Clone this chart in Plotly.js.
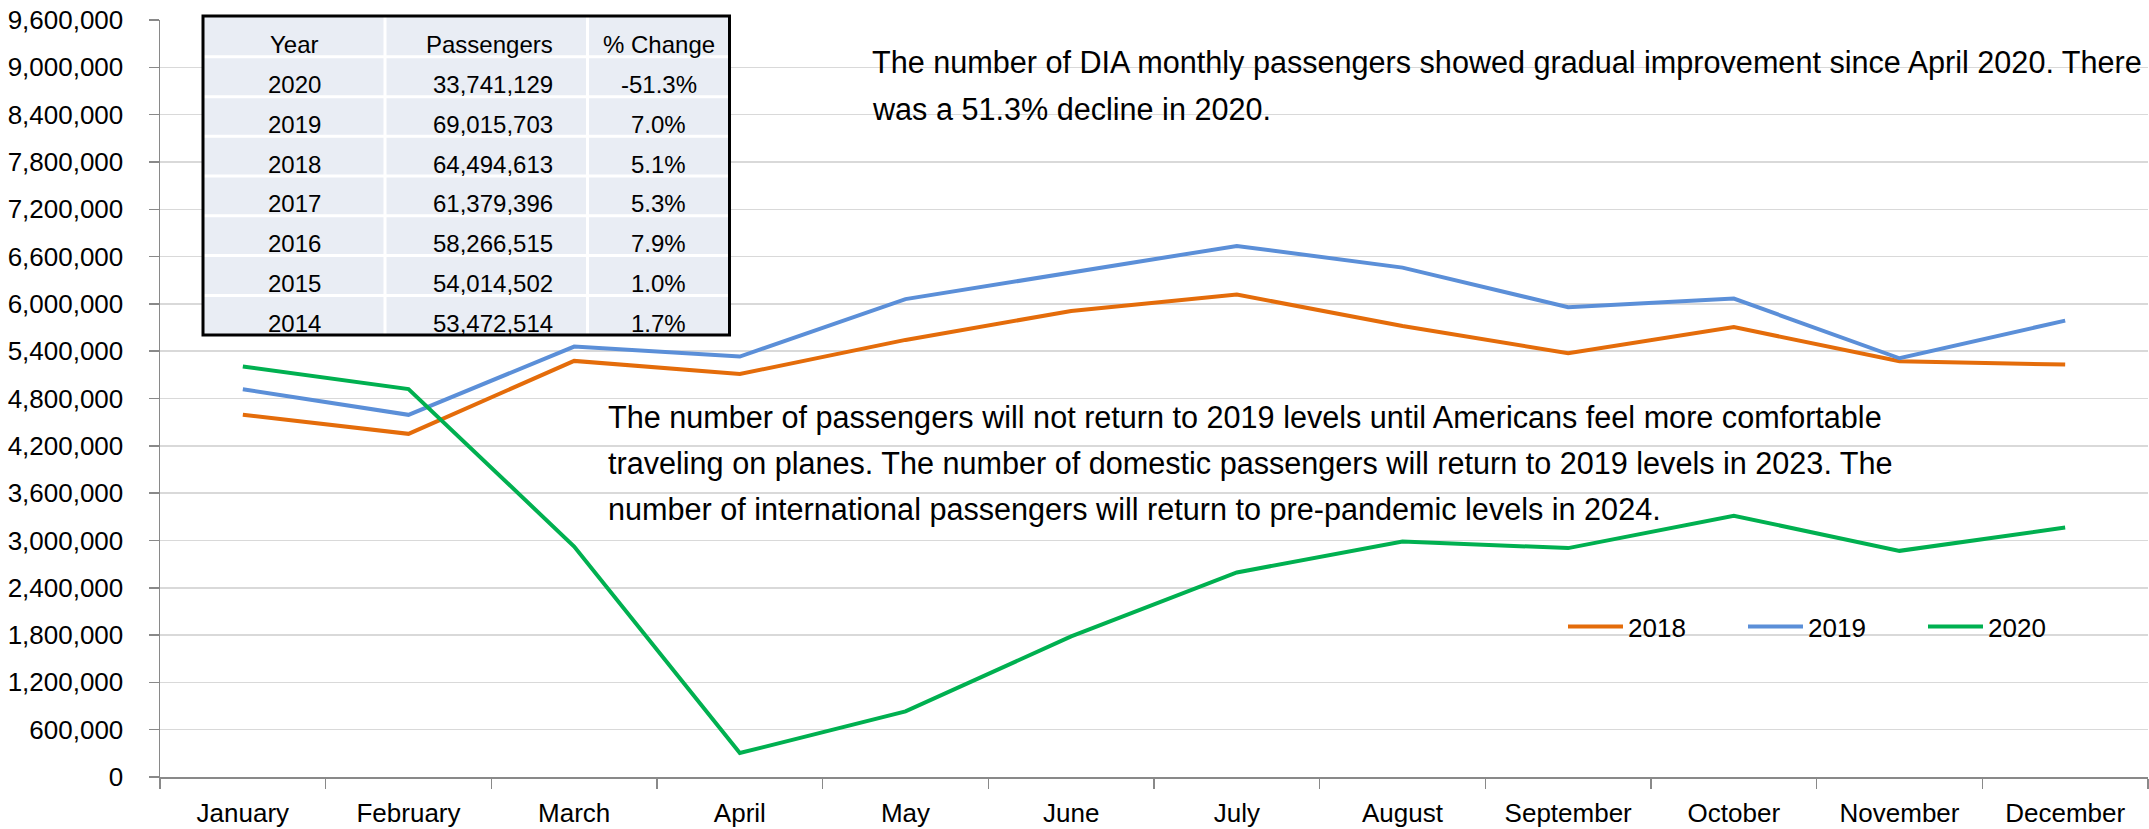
<!DOCTYPE html>
<html>
<head>
<meta charset="utf-8">
<script src="https://cdn.plot.ly/plotly-3.0.1.min.js"></script>
<style>
  html, body { margin: 0; padding: 0; background: #ffffff; }
  #chart { width: 2149px; height: 829px; }
</style>
</head>
<body>
<div id="chart"></div>
<script>
// ---------- data ----------
const months = ["January", "February", "March", "April", "May", "June", "July",
                "August", "September", "October", "November", "December"];
const pax2018 = [4593000, 4352000, 5277000, 5110000, 5543000, 5910000, 6118000, 5720000, 5375000, 5705000, 5273000, 5230000];
const pax2019 = [4918000, 4593000, 5459000, 5332000, 6060000, 6397000, 6735000, 6460000, 5958000, 6067000, 5310000, 5788000];
const pax2020 = [5205000, 4920000, 2923000, 304000, 832000, 1783000, 2594000, 2987000, 2903000, 3313000, 2868000, 3164000];

const tableHeader = ["Year", "Passengers", "% Change"];
const tableYears = ["2020", "2019", "2018", "2017", "2016", "2015", "2014"];
const tablePassengers = ["33,741,129", "69,015,703", "64,494,613", "61,379,396", "58,266,515", "54,014,502", "53,472,514"];
const tableChange = ["-51.3%", "7.0%", "5.1%", "5.3%", "7.9%", "1.0%", "1.7%"];

const noteTop = [
  "The number of DIA monthly passengers showed gradual improvement since April 2020. There",
  "was a 51.3% decline in 2020."
];
const noteMiddle = [
  "The number of passengers will not return to 2019 levels until Americans feel more comfortable",
  "traveling on planes. The number of domestic passengers will return to 2019 levels in 2023. The",
  "number of international passengers will return to pre-pandemic levels in 2024."
];

// ---------- layout helpers (pixel -> paper) ----------
const W = 2149, H = 829;
const PL = 160, PR = 2148, PT = 20, PB = 777;
const px = x => (x - PL) / (PR - PL);
const py = y => (PB - y) / (PB - PT);

const FONT = "Liberation Sans, Arial, Helvetica, sans-serif";

// ---------- traces ----------
const traces = [
  { name: "2018", x: months, y: pax2018, type: "scatter", mode: "lines",
    line: { color: "#E46C0A", width: 4 } },
  { name: "2019", x: months, y: pax2019, type: "scatter", mode: "lines",
    line: { color: "#5B8FD8", width: 4 } },
  { name: "2020", x: months, y: pax2020, type: "scatter", mode: "lines",
    line: { color: "#00B050", width: 4 } }
];

// ---------- table (shapes + annotations) ----------
const tblL = 203, tblR = 729.5, tblT = 16, tblB = 335;
const colDiv = [385, 587.5];
const rowDiv = [56.7, 96.7, 136.3, 176, 215.8, 255.6, 295.4];

const shapes = [];
shapes.push({ type: "rect", xref: "paper", yref: "paper", layer: "above",
  x0: px(tblL), x1: px(tblR), y0: py(tblB), y1: py(tblT),
  fillcolor: "#E9EDF4", line: { width: 0 } });
colDiv.forEach(c => shapes.push({ type: "line", xref: "paper", yref: "paper", layer: "above",
  x0: px(c), x1: px(c), y0: py(tblB), y1: py(tblT), line: { color: "#ffffff", width: 3 } }));
rowDiv.forEach(r => shapes.push({ type: "line", xref: "paper", yref: "paper", layer: "above",
  x0: px(tblL), x1: px(tblR), y0: py(r), y1: py(r), line: { color: "#ffffff", width: 3 } }));
shapes.push({ type: "rect", xref: "paper", yref: "paper", layer: "above",
  x0: px(tblL), x1: px(tblR), y0: py(tblB), y1: py(tblT),
  fillcolor: "rgba(0,0,0,0)", line: { color: "#000000", width: 3 } });

const annotations = [];
const tFont = { family: FONT, size: 24, color: "#000000" };
const colCenters = [294.5, 489, 658.5];
const headerCenterY = 44.4;
tableHeader.forEach((h, i) => annotations.push({
  xref: "paper", yref: "paper", x: px(colCenters[i]), y: py(headerCenterY),
  xanchor: "center", yanchor: "middle", showarrow: false, text: h, font: tFont }));
tableYears.forEach((yr, i) => {
  const cy = 84.4 + 39.8 * i;
  annotations.push({ xref: "paper", yref: "paper", x: px(294.5), y: py(cy),
    xanchor: "center", yanchor: "middle", showarrow: false, text: yr, font: tFont });
  annotations.push({ xref: "paper", yref: "paper", x: px(555), y: py(cy),
    xanchor: "right", yanchor: "middle", showarrow: false, text: tablePassengers[i], font: tFont });
  annotations.push({ xref: "paper", yref: "paper", x: px(658.5), y: py(cy),
    xanchor: "center", yanchor: "middle", showarrow: false, text: tableChange[i], font: tFont });
});

// ---------- notes ----------
const nFont = { family: FONT, size: 30.6, color: "#000000" };
noteTop.forEach((t, i) => annotations.push({
  xref: "paper", yref: "paper", x: px(870), y: py(62.6 + 46 * i),
  xanchor: "left", yanchor: "middle", showarrow: false, text: t, font: nFont }));
noteMiddle.forEach((t, i) => annotations.push({
  xref: "paper", yref: "paper", x: px(606), y: py(418 + 45.5 * i),
  xanchor: "left", yanchor: "middle", showarrow: false, text: t, font: nFont }));

// ---------- layout ----------
const layout = {
  width: W, height: H,
  margin: { l: PL, r: W - PR, t: PT, b: H - PB, pad: 0 },
  paper_bgcolor: "#ffffff", plot_bgcolor: "#ffffff",
  font: { family: FONT, size: 26, color: "#000000" },
  showlegend: true,
  legend: {
    orientation: "h", x: px(1563), xanchor: "left", y: py(626.7), yanchor: "middle",
    font: { family: FONT, size: 26, color: "#000000" },
    bgcolor: "rgba(0,0,0,0)", itemwidth: 55,
    entrywidth: 110, entrywidthmode: "pixels", traceorder: "normal"
  },
  xaxis: {
    type: "category", range: [-0.5, 11.5], tickson: "boundaries",
    ticks: "outside", ticklen: 10, tickwidth: 1.5, tickcolor: "#898989",
    showline: true, linecolor: "#898989", linewidth: 1.5,
    showgrid: false, zeroline: false, ticklabelstandoff: 12,
    tickfont: { family: FONT, size: 26, color: "#000000" }, fixedrange: true
  },
  yaxis: {
    range: [0, 9600000], dtick: 600000, tick0: 0, tickformat: ",d",
    ticks: "outside", ticklen: 10, tickwidth: 1.5, tickcolor: "#898989",
    showline: true, linecolor: "#898989", linewidth: 1.5,
    showgrid: true, gridcolor: "#D9D9D9", gridwidth: 1.5, zeroline: false,
    ticklabelstandoff: 20,
    tickfont: { family: FONT, size: 26, color: "#000000" }, fixedrange: true
  },
  shapes: shapes,
  annotations: annotations
};

Plotly.newPlot("chart", traces, layout, { staticPlot: true, displayModeBar: false });
</script>
</body>
</html>
